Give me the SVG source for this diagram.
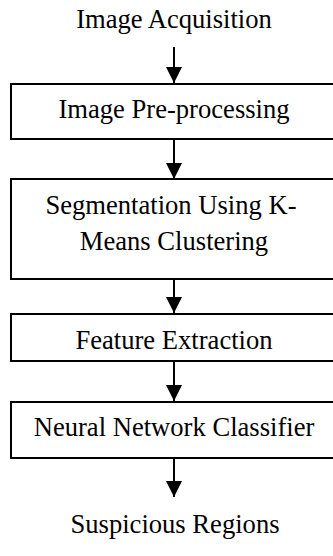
<svg xmlns="http://www.w3.org/2000/svg" width="333" height="556" viewBox="0 0 333 556">
<defs>
<style>
.box{fill:#fff;stroke:#000;stroke-width:2}
.t{font-family:"Liberation Serif","Times New Roman",serif;font-size:26.6px;fill:#000;text-anchor:middle}
.c{stroke:#000;stroke-width:2;fill:none}
</style>
<marker id="ah" markerUnits="userSpaceOnUse" markerWidth="16" markerHeight="16" viewBox="0 0 16 16" refX="16" refY="8" orient="auto">
<path d="M0,0 L16,8 L0,16 Z" fill="#000"/>
</marker>
</defs>
<rect width="333" height="556" fill="#fff"/>
<g id="connectors">
<line class="c" x1="174" y1="47" x2="174" y2="83" marker-end="url(#ah)"/>
<line class="c" x1="174" y1="139" x2="174" y2="179" marker-end="url(#ah)"/>
<line class="c" x1="174" y1="279" x2="174" y2="313" marker-end="url(#ah)"/>
<line class="c" x1="174" y1="361" x2="174" y2="401" marker-end="url(#ah)"/>
<line class="c" x1="174" y1="458" x2="174" y2="497" marker-end="url(#ah)"/>
</g>
<g id="n0"><text class="t" x="174" y="28">Image Acquisition</text></g>
<g id="n1"><rect class="box" x="11" y="84" width="330" height="55"/><text class="t" x="174" y="118">Image Pre-processing</text></g>
<g id="n2"><rect class="box" x="11" y="179" width="330" height="100"/><text class="t" x="171" y="214">Segmentation Using K-</text><text class="t" x="174" y="250">Means Clustering</text></g>
<g id="n3"><rect class="box" x="11" y="314" width="330" height="47"/><text class="t" x="174" y="349">Feature Extraction</text></g>
<g id="n4"><rect class="box" x="11" y="402" width="330" height="56"/><text class="t" x="174" y="436">Neural Network Classifier</text></g>
<g id="n5"><text class="t" x="175" y="533">Suspicious Regions</text></g>
</svg>
